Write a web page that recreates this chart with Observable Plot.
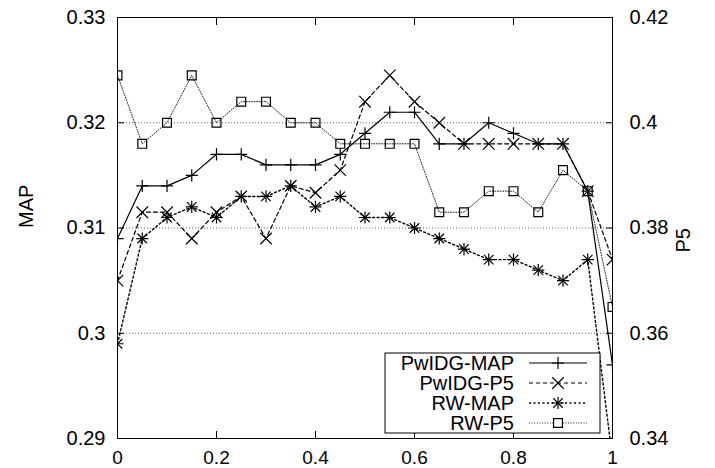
<!DOCTYPE html>
<html><head><meta charset="utf-8">
<script src="https://cdn.jsdelivr.net/npm/d3@7"></script>
<script src="https://cdn.jsdelivr.net/npm/@observablehq/plot@0.6"></script>
<style>
body{margin:0;background:#fff;}
#chart{width:715px;height:468px;}
</style></head><body><div id="chart"></div>
<script>
// ---- data ----
const xValues = [0,0.05,0.1,0.15,0.2,0.25,0.3,0.35,0.4,0.45,0.5,0.55,0.6,0.65,0.7,0.75,0.8,0.85,0.9,0.95,1];
const pwidgMAP = [0.309,0.314,0.314,0.315,0.317,0.317,0.316,0.316,0.316,0.317,0.319,0.321,0.321,0.318,0.318,0.320,0.319,0.318,0.318,0.3135,0.297];
const pwidgP5  = [0.370,0.383,0.383,0.378,0.383,0.386,0.378,0.388,0.3867,0.391,0.404,0.409,0.404,0.400,0.396,0.396,0.396,0.396,0.396,0.387,0.374];
const rwMAP    = [0.299,0.309,0.311,0.312,0.311,0.313,0.313,0.314,0.312,0.313,0.311,0.311,0.310,0.309,0.308,0.307,0.307,0.306,0.305,0.307,0.288];
const rwP5     = [0.409,0.396,0.400,0.409,0.400,0.404,0.404,0.400,0.400,0.396,0.396,0.396,0.396,0.383,0.383,0.387,0.387,0.383,0.391,0.387,0.365];

const seriesNames = ["PwIDG-MAP","PwIDG-P5","RW-MAP","RW-P5"];
const xTicks = [0,0.2,0.4,0.6,0.8,1];
const xTickLabels = ["0","0.2","0.4","0.6","0.8","1"];
const mapTicks = [0.29,0.30,0.31,0.32,0.33];
const mapTickLabels = ["0.29","0.3","0.31","0.32","0.33"];
const p5TickLabels = ["0.34","0.36","0.38","0.4","0.42"];
const gridTicks = [0.30,0.31,0.32];
const mapDomain = [0.29,0.33];
const p5Domain = [0.34,0.42];

// P5 values mapped onto the MAP (left) scale for the secondary axis
const toLeft = p => mapDomain[0] + (p - p5Domain[0]) * (mapDomain[1]-mapDomain[0])/(p5Domain[1]-p5Domain[0]);
const table = (vals, conv) => xValues.map((x,i) => ({x, y: conv ? toLeft(vals[i]) : vals[i]}));

const styles = [
  {data: table(pwidgMAP,false), dash: null,      stroke:"#000", width:1.2, symbols:[["plus",4]]},
  {data: table(pwidgP5,true),   dash: "4,3",     stroke:"#000", width:1.2, symbols:[["times",5.3]]},
  {data: table(rwMAP,false),    dash: "2,2.5",   stroke:"#000", width:1.4, symbols:[["plus",4],["times",4.4]]},
  {data: table(rwP5,true),      dash: "1,1.6",   stroke:"#222", width:1,   symbols:[["square",5]]}
];

const marks = [
  Plot.gridY(gridTicks, {stroke:"#666", strokeOpacity:1, strokeDasharray:"1,2", strokeWidth:1}),
  Plot.frame({stroke:"#000", strokeWidth:1})
];
// ticks (inward) on all four sides
marks.push(Plot.axisX(xTicks, {anchor:"bottom", tickSize:-7, tickFormat:()=>"", label:null}));
marks.push(Plot.axisX(xTicks, {anchor:"top", tickSize:-7, tickFormat:()=>"", label:null}));
marks.push(Plot.axisY(mapTicks, {anchor:"left", tickSize:-7, tickFormat:()=>"", label:null}));
marks.push(Plot.axisY(mapTicks, {anchor:"right", tickSize:-7, tickFormat:()=>"", label:null}));
// tick labels
marks.push(Plot.axisX(xTicks, {anchor:"bottom", tickSize:0, tickPadding:12, fontSize:19, tickFormat:d=>xTickLabels[xTicks.indexOf(d)], label:null}));
marks.push(Plot.axisY(mapTicks, {anchor:"left", tickSize:0, tickPadding:12, tickFormat:d=>mapTickLabels[mapTicks.indexOf(d)], label:null}));
marks.push(Plot.axisY(mapTicks, {anchor:"right", tickSize:0, tickPadding:17, tickFormat:d=>p5TickLabels[mapTicks.indexOf(d)], label:null}));
marks.push(Plot.text(["MAP"], {text:d=>d, frameAnchor:"left", dx:-91, rotate:-90, fontSize:20}));
marks.push(Plot.text(["P5"], {text:d=>d, frameAnchor:"right", dx:71, rotate:-90, fontSize:20}));

for (const s of styles) {
  marks.push(Plot.line(s.data, {x:"x", y:"y", stroke:s.stroke, strokeWidth:s.width, strokeDasharray:s.dash, clip:true}));
  for (const [sym, r] of s.symbols) {
    marks.push(Plot.dot(s.data, {x:"x", y:"y", symbol:sym, r, stroke:"#000", strokeWidth:1.2, fill:"none", clip:true}));
  }
}

const chart = Plot.plot({
  width:715, height:468,
  marginLeft:117, marginRight:103, marginTop:17, marginBottom:30,
  style:{fontFamily:"'Liberation Sans', Arial, sans-serif", fontSize:"20px", color:"#000", background:"#fff"},
  x:{domain:[0,1]},
  y:{domain:mapDomain},
  marks
});
document.getElementById("chart").appendChild(chart);

// ---- legend (inside the plot area, bottom right) ----
const symMap = {plus:d3.symbolPlus, times:d3.symbolTimes, square:d3.symbolSquare};
const svg = d3.select(chart);
const lg = svg.append("g").attr("font-family","'Liberation Sans', Arial, sans-serif").attr("font-size",20);
const box = {x0:385, y0:353, x1:600, y1:433};
lg.append("rect").attr("x",box.x0).attr("y",box.y0).attr("width",box.x1-box.x0).attr("height",box.y1-box.y0)
  .attr("fill","#fff").attr("stroke","#000").attr("stroke-width",1);
seriesNames.forEach((name,i) => {
  const s = styles[i];
  const yy = box.y0 + 10 + 20*i;
  lg.append("text").attr("x",514).attr("y",yy).attr("dy","0.35em").attr("text-anchor","end").text(name);
  lg.append("line").attr("x1",529).attr("x2",587).attr("y1",yy).attr("y2",yy)
    .attr("stroke",s.stroke).attr("stroke-width",s.width).attr("stroke-dasharray",s.dash);
  for (const [sym,r] of s.symbols) {
    lg.append("path").attr("d", d3.symbol(symMap[sym], Math.PI*r*r)())
      .attr("transform",`translate(558,${yy})`).attr("fill", sym==="square" ? "#fff" : "none")
      .attr("stroke","#000").attr("stroke-width",1.2);
  }
});
</script></body></html>
